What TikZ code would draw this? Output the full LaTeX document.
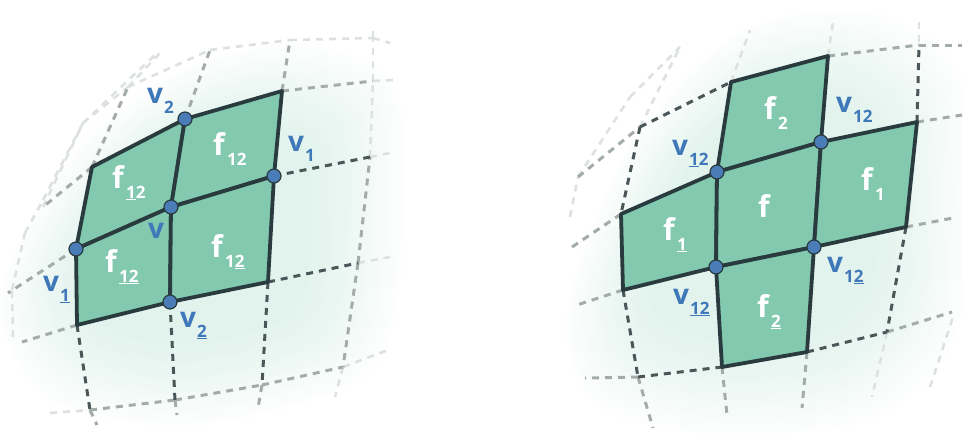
\documentclass[tikz,border=0pt]{standalone}
\usepackage{fontspec}
\setmainfont{Open Sans}
\definecolor{facegreen}{HTML}{82C9AF}
\definecolor{edgedark}{HTML}{2A3B40}
\definecolor{vertblue}{HTML}{4A7DB8}
\definecolor{labelblue}{HTML}{3F78B8}
\definecolor{glowgreen}{HTML}{8FD0B8}
\definecolor{griddarkc}{HTML}{4A5658}
\definecolor{gridmidc}{HTML}{A3ACAA}
\definecolor{gridfaintc}{HTML}{DDE2E1}
\newcommand{\subfont}{\fontsize{17}{17}\selectfont}
\newcommand{\lbl}[2]{\textbf{#1}\raisebox{-10pt}{\hspace{1pt}\subfont\textbf{#2}}}
\begin{document}
\begin{tikzpicture}[x=1pt, y=-1pt,
  griddark/.style={draw=griddarkc, line width=3pt, dash pattern=on 7pt off 6pt},
  gridmid/.style={draw=gridmidc, line width=3pt, dash pattern=on 7pt off 6pt},
  gridfaint/.style={draw=gridfaintc, line width=2.6pt, dash pattern=on 7pt off 6pt},
  face/.style={fill=facegreen, draw=edgedark, line width=3.8pt, line join=round},
  vert/.style={circle, fill=vertblue, draw=edgedark, line width=1.2pt, minimum size=14pt, inner sep=0pt},
  vlabel/.style={anchor=base west, inner sep=0pt, text=labelblue, font=\fontsize{28}{28}\selectfont},
  flabel/.style={anchor=base west, inner sep=0pt, text=white, font=\fontsize{30}{30}\selectfont}]
  \useasboundingbox (0,0) rectangle (963,432);

  % soft glow behind each grid
  \foreach \s in {1.10,1.08,...,0.60} {
    \fill[glowgreen, opacity=0.012, shift={(190,235)}, scale=\s]
      plot[smooth cycle] coordinates {(-175,60) (-110,-70) (-10,-150) (100,-175) (190,-130) (190,60) (150,135) (0,175) (-130,150)};
    \fill[glowgreen, opacity=0.012, shift={(755,215)}, scale=\s]
      plot[smooth cycle] coordinates {(-170,75) (-110,-70) (-10,-170) (110,-185) (190,-120) (190,90) (120,180) (-20,205) (-150,170)};
  }

  % left grid points
  \foreach \n/\x/\y in {law/83/123, la1/128/87, la2/210/50, la3/290/40, la4/373/38, lae/390/43,
      lbw/43/207, lb1/92/167, lb2/185/119, lb3/282/91, lb4/373/81, lbe/393/80,
      lcw/8/293, lc1/76/249, lc2/171/207, lc3/274/176, lc4/370/157, lce/390/153,
      ldw/22/342, ld1/77/325, ld2/170/302, ld3/268/282, ld4/358/263, lde/390/257,
      lew/50/413, le1/90/410, le2/175/400, le3/262/385, le4/343/367, lee/388/350,
      ls1/97/425, ls2/177/415, ls3/258/408, ls4/335/397, ln1/160/53, ln4/373/30,
      lk1/13/337, lk2/12/290, lk3/25/233, lk4/43/200, lk5/157/53}
    \coordinate (\n) at (\x,\y);

  % right grid points
  \foreach \n/\x/\y in {raw/578/177, ra0/640/127, ra1/731/82, ra2/828/56, ra3/919/45, rae/962/45,
      rbw/572/247, rb0/621/214, rb1/717/172, rb2/821/142, rb3/917/122, rbe/962/115,
      rcw/577/305, rc0/623/290, rc1/716/267, rc2/814/247, rc3/906/227, rce/953/218,
      rdw/585/378, rd0/638/377, rd1/722/367, rd2/807/352, rd3/887/332, rde/952/312,
      rs0/653/428, rs1/727/415, rs2/802/408, rs3/872/397, rt0/680/47, rt1/750/30, rt2/833/22, rt3/919/22,
      rk1/570/217, rk2/630/97, rk3/930/387, rk4/953/317}
    \coordinate (\n) at (\x,\y);

  % dashed grid, by how far it lies from the faces
  \foreach \a/\b in {law/la1, la1/la2, la2/la3, la3/la4, la4/lae, lb4/lbe, lc4/lce, ld4/lde, le4/lee,
      lbw/law, law/lk5, la1/ln1, la4/ln4, lk1/lk2, lk2/lk3, lk3/lk4, lk4/law, lc4/lb4, lb4/la4,
      le4/ls4, lew/le1,
      rk1/raw, raw/rk2, rk2/rt0, ra0/rt0, ra1/rt1, ra2/rt2, rt3/ra3, rbw/rb0,
      rk3/rk4, rd3/rs3}
    \draw[gridfaint] (\a) -- (\b);
  \foreach \a/\b in {lb3/lb4, lb2/la2, lb3/la3, lb1/la1, lb1/lbw, lc1/lcw, ld1/ldw,
      le1/le2, le2/le3, le3/le4, ld4/le4, ld4/lc4, le3/ls3, le2/ls2, le1/ls1,
      rb3/rbe, rc3/rce, ra3/rae, ra2/ra3, rd3/rde, rd0/rdw, rc0/rcw, rb0/rbw,
      raw/ra0, rd0/rs0, rd1/rs1, rd2/rs2}
    \draw[gridmid] (\a) -- (\b);
  \foreach \a/\b in {lc3/lc4, ld3/ld4, ld1/le1, ld2/le2, ld3/le3,
      ra0/ra1, ra0/rb0, rb3/ra3, rc3/rd3, rc0/rd0, rd0/rd1, rd2/rd3}
    \draw[griddark] (\a) -- (\b);

  % faces
  \foreach \p/\q/\r/\t in {lb1/lb2/lc2/lc1, lb2/lb3/lc3/lc2, lc1/lc2/ld2/ld1, lc2/lc3/ld3/ld2,
      ra1/ra2/rb2/rb1, rb0/rb1/rc1/rc0, rb1/rb2/rc2/rc1, rb2/rb3/rc3/rc2, rc1/rc2/rd2/rd1}
    \draw[face] (\p) -- (\q) -- (\r) -- (\t) -- cycle;

  % vertices
  \foreach \n in {lb2, lc1, lc2, lc3, ld2, rb1, rb2, rc1, rc2}
    \node[vert] (v\n) at (\n) {};

  % labels on the left
  \node[vlabel] (ltwotop) at (147,103) {\lbl{v}{2}};
  \node[vlabel] (lonert) at (288,151) {\lbl{v}{1}};
  \node[vlabel] (lcentre) at (148,238) {\textbf{v}};
  \node[vlabel] (lonelf) at (43,291) {\lbl{v}{\underline{1}}};
  \node[vlabel] (ltwobot) at (180,327) {\lbl{v}{\underline{2}}};
  \node[flabel] (lfa) at (213,155) {\lbl{f}{12}};
  \node[flabel] (lfb) at (112,188) {\lbl{f}{\underline{1}2}};
  \node[flabel] (lfc) at (105,272) {\lbl{f}{\underline{12}}};
  \node[flabel] (lfd) at (211,257) {\lbl{f}{1\underline{2}}};

  % labels on the right
  \node[vlabel] (rva) at (836,112) {\lbl{v}{12}};
  \node[vlabel] (rvb) at (672,155) {\lbl{v}{\underline{1}2}};
  \node[vlabel] (rvc) at (673,304) {\lbl{v}{\underline{12}}};
  \node[vlabel] (rvd) at (827,272) {\lbl{v}{1\underline{2}}};
  \node[flabel] (rfa) at (764,119) {\lbl{f}{2}};
  \node[flabel] (rfb) at (861,190) {\lbl{f}{1}};
  \node[flabel] (rfc) at (758,217) {\textbf{f}};
  \node[flabel] (rfd) at (663,240) {\lbl{f}{\underline{1}}};
  \node[flabel] (rfe) at (757,317) {\lbl{f}{\underline{2}}};
\end{tikzpicture}
\end{document}
